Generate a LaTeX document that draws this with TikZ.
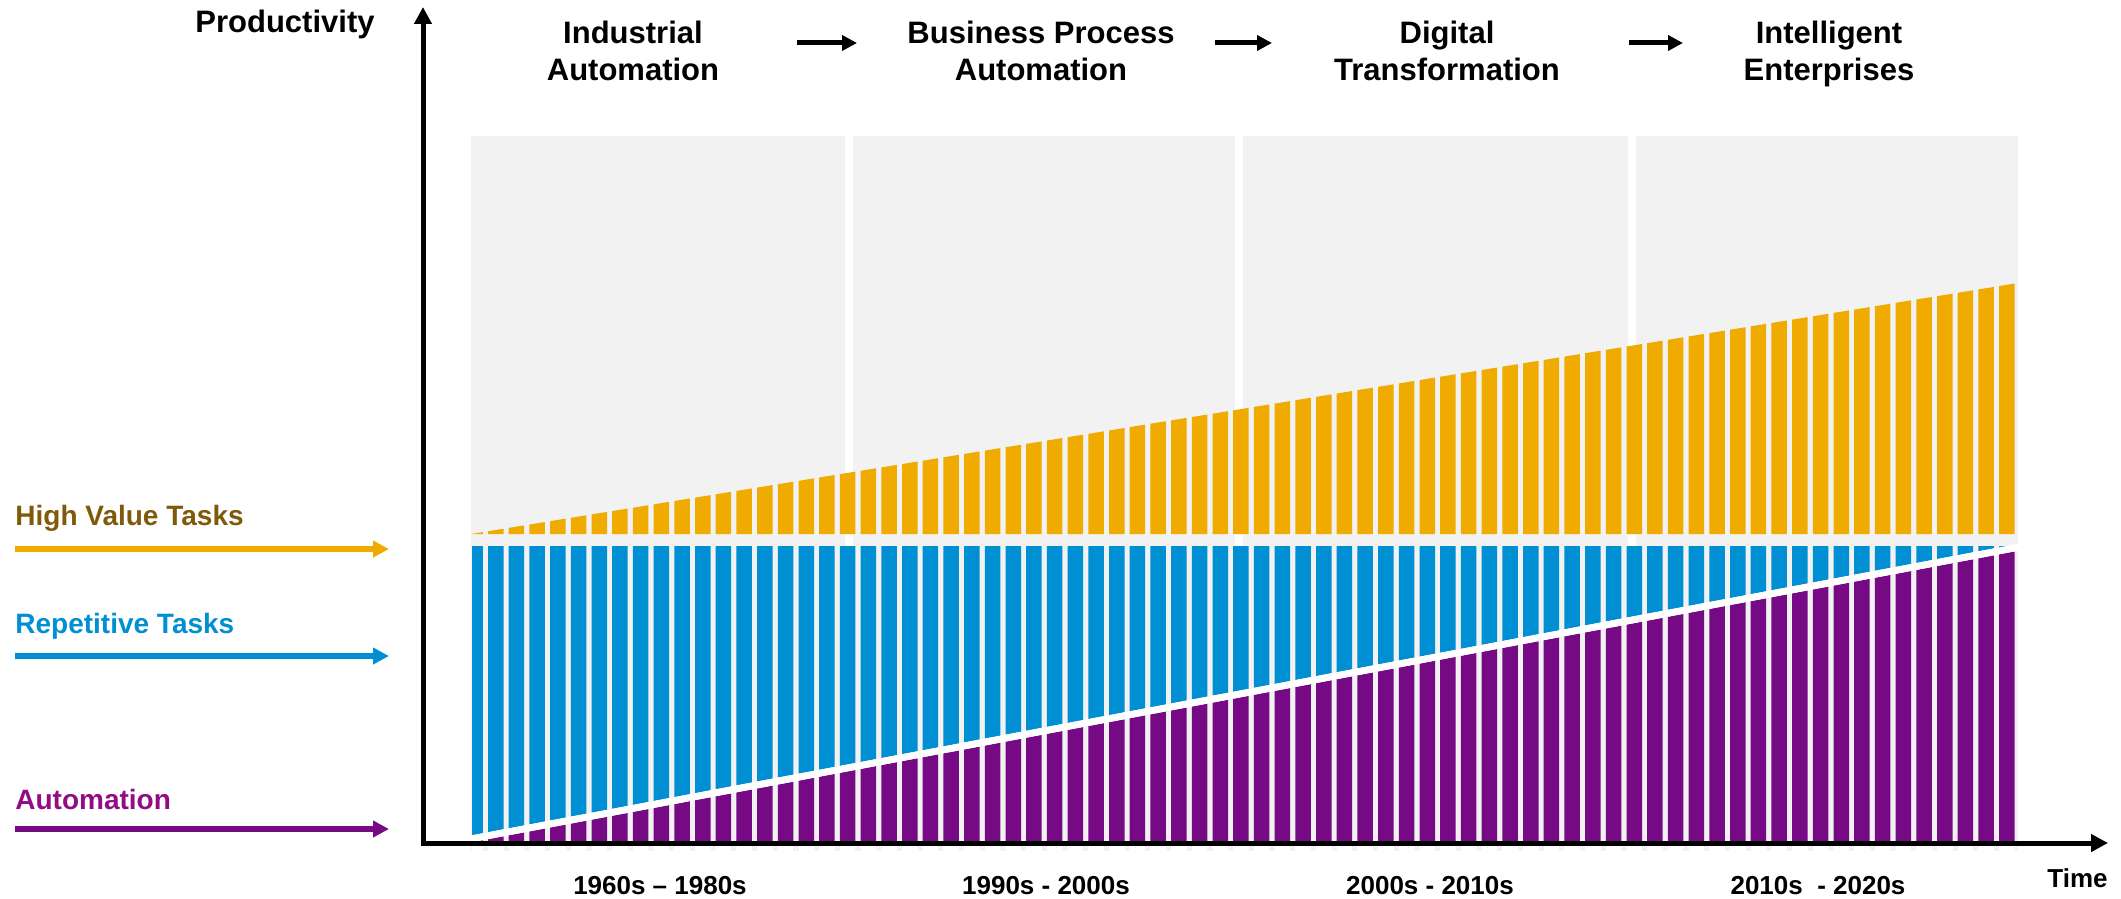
\documentclass[tikz,border=0pt]{standalone}
\usepackage{fontspec}
\setmainfont{Liberation Sans}
\usetikzlibrary{arrows.meta}
\definecolor{gold}{HTML}{F0AB00}
\definecolor{sapblue}{HTML}{008FD3}
\definecolor{sappurple}{HTML}{760A85}
\definecolor{bggray}{HTML}{F2F2F2}
\definecolor{hvtext}{HTML}{7F5A08}
\definecolor{autotext}{HTML}{920C83}
\begin{document}
\begin{tikzpicture}[x=0.5pt,y=-0.5pt,
  axisline/.style={line width=2.5pt,-{Triangle[length=8.5pt,width=8.5pt]}},
  flowarrow/.style={line width=2.5pt,-{Triangle[length=7.5pt,width=7.5pt]}},
  legarrow/.style={line width=2.6pt,-{Triangle[length=8pt,width=8pt]}},
  header/.style={font=\fontsize{15.5}{18.5}\selectfont\bfseries,align=center,inner sep=0pt,anchor=north},
  legendtext/.style={font=\fontsize{14}{16}\selectfont\bfseries,inner sep=0pt,anchor=base west},
  period/.style={font=\fontsize{13}{15}\selectfont\bfseries,inner sep=0pt,anchor=base},
  sepbar/.style={fill=white}
]
\useasboundingbox (0,0) rectangle (2121,899);
% background
\fill[bggray] (471,136) rectangle (2018,851);
\fill[sepbar] (845,136) rectangle (853,851);
\fill[sepbar] (1235,136) rectangle (1243,851);
\fill[sepbar] (1628,136) rectangle (1636,851);
% bars
\foreach \i in {0,...,74}{
  \pgfmathsetmacro\L{max(472,467.3+20.7*\i)}
  \pgfmathsetmacro\R{467.3+20.7*\i+15.5}
  \pgfmathsetmacro\yyl{534-(\L-471)*0.16225}
  \pgfmathsetmacro\yyr{534-(\R-471)*0.16225}
  \pgfmathsetmacro\ypl{843-(\L-468)*0.1885}
  \pgfmathsetmacro\ypr{843-(\R-468)*0.1885}
  \pgfmathsetmacro\ybl{max(546,\ypl-7)}
  \pgfmathsetmacro\ybr{max(546,\ypr-7)}
  \fill[gold] (\L,534) -- (\L,\yyl) -- (\R,\yyr) -- (\R,534) -- cycle;
  \fill[sapblue] (\L,546) -- (\R,546) -- (\R,\ybr) -- (\L,\ybl) -- cycle;
  \fill[sappurple] (\L,\ypl) -- (\R,\ypr) -- (\R,843) -- (\L,843) -- cycle;
  \fill[white] (\L,843) rectangle (\R,852);
}
% white band between repetitive tasks and automation
\fill[white] (471,842.4) -- (2018,550.8) -- (2018,543.8) -- (471,835.4) -- cycle;
% axes
\coordinate (origin) at (423,843);
\coordinate (ytip) at (423,7);
\coordinate (xtip) at (2108,843);
\draw[axisline] (423,845.5) -- (ytip);
\draw[axisline] (420.5,843) -- (xtip);
\node[font=\fontsize{15.5}{18}\selectfont\bfseries,inner sep=0pt,anchor=base] (prod) at (285,33) {Productivity};
\node[font=\fontsize{13}{15}\selectfont\bfseries,inner sep=0pt,anchor=base east] (time) at (2108,887) {Time};
% headers
\node[header] (h1) at (633,21) {Industrial\\Automation};
\node[header] (h2) at (1041,21) {Business Process\\Automation};
\node[header] (h3) at (1447,21) {Digital\\Transformation};
\node[header] (h4) at (1829,21) {Intelligent\\Enterprises};
\coordinate (a1s) at (797,43); \coordinate (a1e) at (857,43);
\coordinate (a2s) at (1215,43); \coordinate (a2e) at (1272,43);
\coordinate (a3s) at (1629,43); \coordinate (a3e) at (1683,43);
\draw[flowarrow] (a1s) -- (a1e);
\draw[flowarrow] (a2s) -- (a2e);
\draw[flowarrow] (a3s) -- (a3e);
% legend
\node[legendtext,text=hvtext] (lhv) at (15,525) {High Value Tasks};
\node[legendtext,text=sapblue] (lrt) at (15,633) {Repetitive Tasks};
\node[legendtext,text=autotext] (lau) at (15,809) {Automation};
\coordinate (g1s) at (15,549); \coordinate (g1e) at (389,549);
\coordinate (g2s) at (15,656); \coordinate (g2e) at (389,656);
\coordinate (g3s) at (15,829); \coordinate (g3e) at (389,829);
\draw[legarrow,gold] (g1s) -- (g1e);
\draw[legarrow,sapblue] (g2s) -- (g2e);
\draw[legarrow,sappurple] (g3s) -- (g3e);
% periods
\node[period] (p1) at (660,894) {1960s – 1980s};
\node[period] (p2) at (1046,894) {1990s - 2000s};
\node[period] (p3) at (1430,894) {2000s - 2010s};
\node[period] (p4) at (1818,894) {2010s\ \ - 2020s};
\end{tikzpicture}
\end{document}
